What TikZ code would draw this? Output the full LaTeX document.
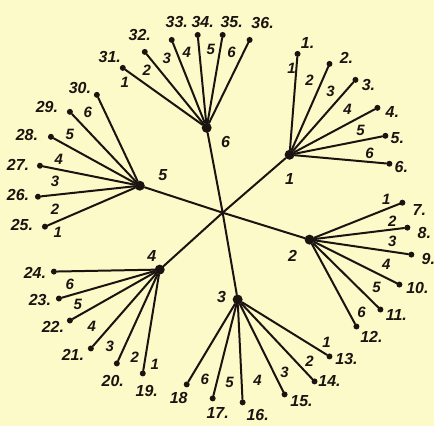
\documentclass[tikz,border=0pt]{standalone}
\usepackage{fontspec}
\setmainfont{Liberation Sans}
\definecolor{paper}{RGB}{252,250,200}
\definecolor{ink}{RGB}{25,20,15}
\tikzset{
  twig/.style={line width=2pt, line cap=round, draw=ink},
  leaf/.style={circle, fill=ink, inner sep=0pt, minimum size=6pt},
  hub/.style={circle, fill=ink, inner sep=0pt, minimum size=10pt},
  num/.style={font=\fontsize{16}{16}\selectfont\bfseries\itshape, text=ink, inner sep=0pt},
  tick/.style={font=\fontsize{15}{15}\selectfont\bfseries\itshape, text=ink, inner sep=0pt},
}

\begin{document}
\begin{tikzpicture}[x=1pt, y=-1pt]
  \fill[paper] (0,0) rectangle (435,427);
  \coordinate (c) at (223,213);
  % hubs and their numbers
  \node[hub] (h1) at (290,155) {};
  \node[hub] (h2) at (310,240) {};
  \node[hub] (h3) at (238,300) {};
  \node[hub] (h4) at (160,270) {};
  \node[hub] (h5) at (140,186) {};
  \node[hub] (h6) at (207,128) {};
  \node[num] (m1) at (290,179) {1};
  \node[num] (m2) at (293,256) {2};
  \node[num] (m3) at (222,297) {3};
  \node[num] (m4) at (152,256) {4};
  \node[num] (m5) at (163,175) {5};
  \node[num] (m6) at (226,142) {6};
  \foreach \h in {1,...,6}
    \draw[twig] (c) -- (h\h);
  % leaves: number/hub/edge mark/text/dot/text pos/mark pos
  \foreach \n/\hb/\k/\t/\px/\py/\tx/\ty/\ex/\ey in {
      1/1/1/1./298/54/308/43/292/68,
      2/1/2/2./330/64/347/58/310/80,
      3/1/3/3./356/80/369/85/331/91,
      4/1/4/4./378/108/393/112/348/110,
      5/1/5/5./386/136/398/138/361/131,
      6/1/6/6./390/164/402/167/370/154,
      7/2/1/7./403/203/420/210/387/200,
      8/2/2/8./408/228/425/233/393/222,
      9/2/3/9./412/255/429/259/393/242,
      10/2/4/10./400/285/418/288/387/265,
      11/2/5/11./381/310/397/315/377/288,
      12/2/6/12./357/327/372/337/362/313,
      13/3/1/13./330/357/347/360/327/343,
      14/3/2/14./315/382/330/382/310/362,
      15/3/3/15./285/395/302/402/285/373,
      16/3/4/16./243/403/258/416/258/381,
      17/3/5/17./213/399/218/414/230/383,
      18/3/6/18/187/385/179/399/205/380,
      19/4/1/19./143/374/147/392/155/365,
      20/4/2/20./117/364/113/382/135/358,
      21/4/3/21./91/349/73/355/110/347,
      22/4/4/22./70/321/53/327/92/327,
      23/4/5/23./59/299/40/300/78/305,
      24/4/6/24./54/272/35/273/70/285,
      25/5/1/25./45/227/22/225/58/233,
      26/5/2/26./38/197/18/195/55/210,
      27/5/3/27./40/166/18/165/55/182,
      28/5/4/28./51/137/27/135/59/160,
      29/5/5/29./70/112/47/107/70/135,
      30/5/6/30./97/95/80/88/88/113,
      31/6/1/31./123/68/110/57/125/82,
      32/6/2/32./145/52/140/35/147/70,
      33/6/3/33./172/40/177/22/167/58,
      34/6/4/34./198/35/203/22/187/52,
      35/6/5/35./223/35/232/22/211/50,
      36/6/6/36./250/40/263/23/232/52} {
    \node[leaf] (l\n) at (\px,\py) {};
    \draw[twig] (h\hb) -- (l\n);
    \node[num] (t\n) at (\tx,\ty) {\t};
    \node[tick] (e\n) at (\ex,\ey) {\k};
  }
\end{tikzpicture}
\end{document}
